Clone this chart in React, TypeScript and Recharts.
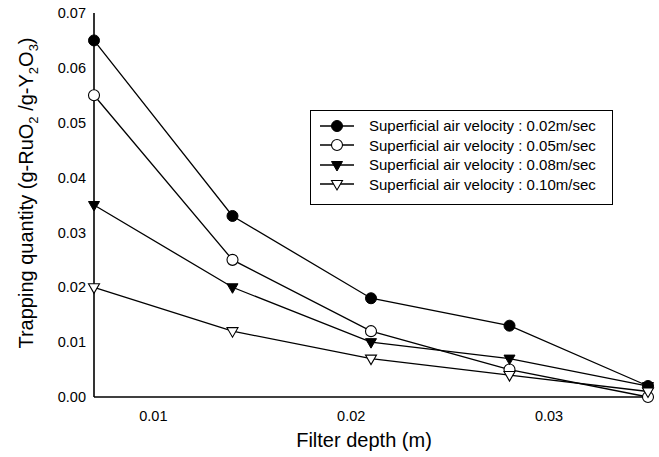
import React from 'react';
import { LineChart, Line, XAxis, YAxis, Legend } from 'recharts';

const depth = [0.007, 0.014, 0.021, 0.028, 0.035];
const v002 = [0.065, 0.033, 0.018, 0.013, 0.002];
const v005 = [0.055, 0.025, 0.012, 0.005, 0.0];
const v008 = [0.035, 0.02, 0.01, 0.007, 0.002];
const v010 = [0.02, 0.012, 0.007, 0.004, 0.001];

const xTicks = [0.01, 0.02, 0.03];
const yTicks = [0, 0.01, 0.02, 0.03, 0.04, 0.05, 0.06, 0.07];

const seriesNames = [
  'Superficial air velocity : 0.02m/sec',
  'Superficial air velocity : 0.05m/sec',
  'Superficial air velocity : 0.08m/sec',
  'Superficial air velocity : 0.10m/sec',
];
const seriesKeys = ['s1', 's2', 's3', 's4'];
const seriesShapes = ['circleFilled', 'circleOpen', 'triFilled', 'triOpen'];

const data = depth.map((d, i) => ({
  depth: d,
  s1: v002[i],
  s2: v005[i],
  s3: v008[i],
  s4: v010[i],
}));

const FONT = '"Liberation Sans", Arial, Helvetica, sans-serif';

function Marker({ cx, cy, shape }: { cx: number; cy: number; shape: string }) {
  if (cx == null || cy == null) return null;
  if (shape === 'circleFilled')
    return <circle cx={cx} cy={cy} r={5.5} fill="#000" stroke="#000" strokeWidth={1} />;
  if (shape === 'circleOpen')
    return <circle cx={cx} cy={cy} r={5.5} fill="#fff" stroke="#000" strokeWidth={1.1} />;
  const w = 5.5;
  const pts = `${cx - w},${cy - 3.5} ${cx + w},${cy - 3.5} ${cx},${cy + 6}`;
  if (shape === 'triFilled') return <polygon points={pts} fill="#000" stroke="#000" strokeWidth={1} />;
  return <polygon points={pts} fill="#fff" stroke="#000" strokeWidth={1.1} />;
}

const makeDot = (shape: string) => (props: any) => (
  <Marker key={`d-${shape}-${props.index}`} cx={props.cx} cy={props.cy} shape={shape} />
);

function YLabel(props: any) {
  const x = 33;
  const y = 193;
  return (
    <text
      x={x}
      y={y}
      transform={`rotate(-90, ${x}, ${y})`}
      textAnchor="middle"
      fontFamily={FONT}
      fontSize={20}
      fill="#000"
    >
      <tspan>Trapping quantity (g-RuO</tspan>
      <tspan fontSize={13} dy={5}>2</tspan>
      <tspan dy={-5}> /g-Y</tspan>
      <tspan fontSize={13} dy={5}>2</tspan>
      <tspan dy={-5}>O</tspan>
      <tspan fontSize={13} dy={5}>3</tspan>
      <tspan dy={-5}>)</tspan>
    </text>
  );
}

function XLabel(props: any) {
  const vb = props.viewBox || { x: 94, y: 397, width: 554, height: 60 };
  return (
    <text
      x={vb.x + vb.width / 2 - 7}
      y={vb.y + 50}
      textAnchor="middle"
      fontFamily={FONT}
      fontSize={20}
      fill="#000"
    >
      Filter depth (m)
    </text>
  );
}

function LegendBox() {
  return (
    <div
      style={{
        fontFamily: FONT,
        fontSize: 15,
        color: '#000',
        paddingTop: 5,
        paddingLeft: 9,
      }}
    >
      {seriesNames.map((name, i) => (
        <div key={name} style={{ display: 'flex', alignItems: 'center', height: 19.5, whiteSpace: 'nowrap' }}>
          <svg width={36} height={16} style={{ marginRight: 13, display: 'block' }}>
            <line x1={0} y1={8} x2={34} y2={8} stroke="#000" strokeWidth={1.3} />
            <Marker cx={17} cy={8} shape={seriesShapes[i]} />
          </svg>
          <span>{name}</span>
        </div>
      ))}
    </div>
  );
}

export default function App() {
  return (
    <div style={{ position: 'absolute', left: 0, top: 0, width: 659, height: 457, background: '#fff' }}>
      <LineChart
        width={659}
        height={457}
        data={data}
        margin={{ top: 13, right: 11, bottom: 0, left: 0 }}
      >
        <XAxis
          dataKey="depth"
          type="number"
          domain={[0.007, 0.035]}
          ticks={xTicks}
          tickFormatter={(v: number) => v.toFixed(2)}
          height={60}
          tickLine={false}
          tickSize={6}
          tickMargin={8}
          axisLine={{ stroke: '#000', strokeWidth: 1.6 }}
          tick={{ fill: '#000', fontSize: 14.5, fontFamily: FONT }}
          label={<XLabel />}
        />
        <XAxis
          xAxisId="bm"
          dataKey="depth"
          type="number"
          domain={[0.007, 0.035]}
          ticks={xTicks}
          orientation="bottom"
          mirror
          height={0}
          tick={false}
          axisLine={false}
          tickSize={5}
          tickLine={{ stroke: '#000', strokeWidth: 1 }}
        />
        <XAxis
          xAxisId="top"
          dataKey="depth"
          type="number"
          domain={[0.007, 0.035]}
          ticks={xTicks}
          orientation="top"
          mirror
          height={0}
          tick={false}
          tickLine={false}
          axisLine={{ stroke: '#000', strokeWidth: 1.6 }}
        />
        <YAxis
          type="number"
          domain={[0, 0.07]}
          ticks={yTicks}
          tickFormatter={(v: number) => v.toFixed(2)}
          width={94}
          tickLine={false}
          tickSize={6}
          tickMargin={2}
          axisLine={{ stroke: '#000', strokeWidth: 1.6 }}
          tick={{ fill: '#000', fontSize: 14.5, fontFamily: FONT }}
          label={<YLabel />}
        />
        <YAxis
          yAxisId="lm"
          type="number"
          domain={[0, 0.07]}
          ticks={yTicks}
          orientation="left"
          mirror
          width={0}
          tick={false}
          axisLine={false}
          tickSize={5}
          tickLine={{ stroke: '#000', strokeWidth: 1 }}
        />
        <YAxis
          yAxisId="r"
          type="number"
          domain={[0, 0.07]}
          ticks={yTicks}
          orientation="right"
          mirror
          width={0}
          tick={false}
          tickSize={5}
          tickLine={{ stroke: '#000', strokeWidth: 1 }}
          axisLine={{ stroke: '#000', strokeWidth: 1.6 }}
        />
        <Legend
          layout="vertical"
          align="center"
          verticalAlign="middle"
          content={<LegendBox />}
          wrapperStyle={{
            left: 310,
            top: 110,
            width: 303,
            height: 95,
            border: '1px solid #000',
            boxSizing: 'border-box',
            background: '#fff',
          }}
        />
        {seriesKeys.map((k, i) => (
          <Line
            key={k}
            dataKey={k}
            name={seriesNames[i]}
            stroke="#000"
            strokeWidth={1.3}
            dot={makeDot(seriesShapes[i])}
            activeDot={false}
            isAnimationActive={false}
          />
        ))}
      </LineChart>
    </div>
  );
}
